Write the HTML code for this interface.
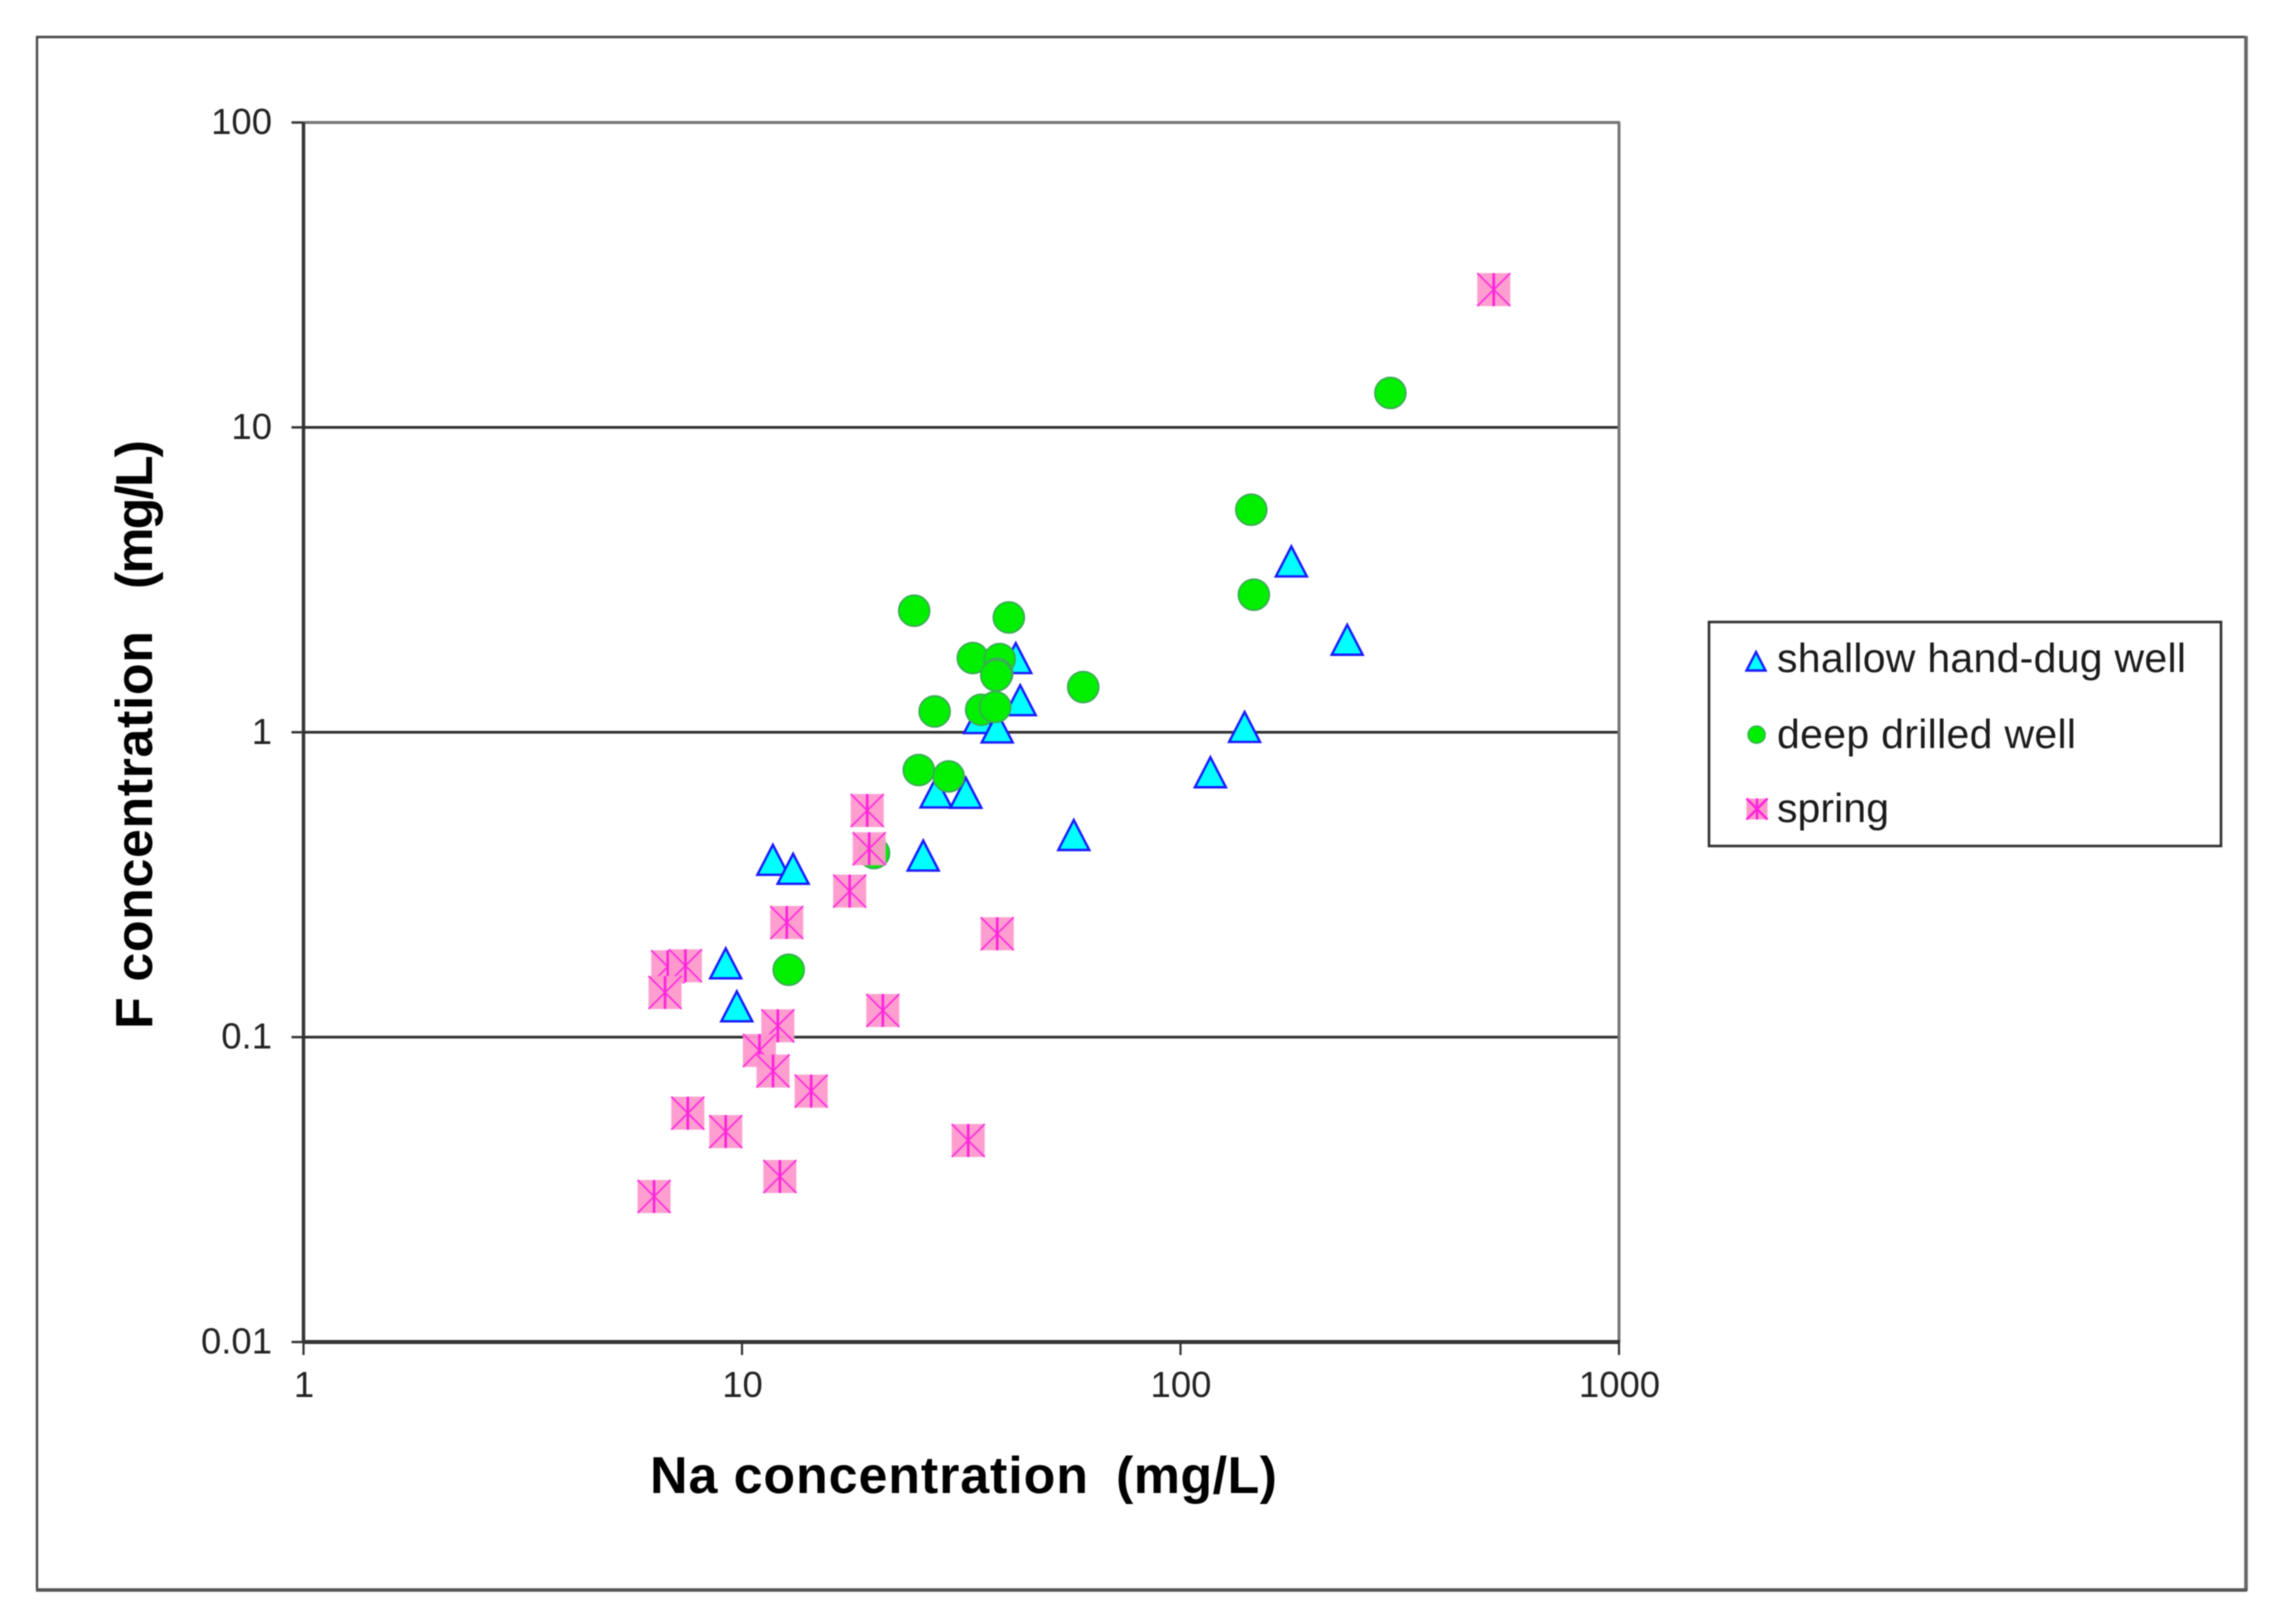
<!DOCTYPE html>
<html>
<head>
<meta charset="utf-8">
<title>F vs Na concentration</title>
<style>
html,body{margin:0;padding:0;background:#fff;}
svg{display:block;font-family:"Liberation Sans",sans-serif;filter:blur(0.6px);}
</style>
</head>
<body>
<svg id="chart" width="2276" height="1616" viewBox="0 0 2276 1616" xmlns="http://www.w3.org/2000/svg">
  <rect x="0" y="0" width="2276" height="1616" fill="#ffffff"/>
  <g>
    <line x1="36.5" y1="37" x2="2246" y2="37" stroke="#4a4a4a" stroke-width="2.4"/>
    <line x1="37" y1="36" x2="37" y2="1590" stroke="#4a4a4a" stroke-width="2.4"/>
    <line x1="2246" y1="36" x2="2246" y2="1591" stroke="#666666" stroke-width="3.6"/>
    <line x1="36" y1="1590" x2="2247" y2="1590" stroke="#555555" stroke-width="3.6"/>
  </g>
  <g id="grid"></g>
  <g id="axes"></g>
  <g id="marks"></g>
  <g>
    <text x="650" y="1493" font-size="52" font-weight="700" fill="#000000" textLength="438">Na concentration</text>
    <text x="1116" y="1493" font-size="52" font-weight="700" fill="#000000" textLength="161">(mg/L)</text>
  </g>
  <g>
    <text transform="translate(152,1029) rotate(-90)" x="0" y="0" font-size="52" font-weight="700" fill="#000000" textLength="398">F concentration</text>
    <text transform="translate(152,589) rotate(-90)" x="0" y="0" font-size="52" font-weight="700" fill="#000000" textLength="149">(mg/L)</text>
  </g>
  <g>
    <rect x="1709" y="622" width="512" height="224" fill="#ffffff" stroke="#333333" stroke-width="2.6"/>
    <g>
      <polygon points="1756,652 1765.5,670.5 1746.5,670.5" fill="#00ffff" stroke="#1a1aff" stroke-width="2.4"/>
      <text x="1777" y="672" font-size="41" fill="#1a1a1a" textLength="409">shallow hand-dug well</text>
    </g>
    <g>
      <circle cx="1756.6" cy="734.7" r="8.6" fill="#00ee00" stroke="#3fae5a" stroke-width="1.4"/>
      <text x="1777" y="748" font-size="41" fill="#1a1a1a" textLength="299">deep drilled well</text>
    </g>
    <g>
      <rect x="1746.5" y="798.5" width="21" height="21" fill="#ff99cc"/>
      <path d="M1746.5 798.5L1767.5 819.5M1767.5 798.5L1746.5 819.5M1757 798.5V819.5" stroke="#ff22dd" stroke-width="2.4" fill="none"/>
      <text x="1777" y="822" font-size="41" fill="#1a1a1a" textLength="112">spring</text>
    </g>
  </g>
</svg>
<script>
// Tick values and labels
const xTicks = [1, 10, 100, 1000];
const xTickLabels = ["1", "10", "100", "1000"];
const yTicks = [0.01, 0.1, 1, 10, 100];
const yTickLabels = ["0.01", "0.1", "1", "10", "100"];

// Shallow hand-dug wells (Na mg/L, F mg/L)
const shallowNa = [42.1, 43.1, 34.8, 38.2, 27.7, 32.4, 57.1, 25.9, 11.76, 13.08, 9.18, 9.73, 179, 240, 140, 117];
const shallowF = [1.751, 1.274, 1.113, 1.037, 0.6346, 0.6331, 0.4602, 0.3941, 0.3817, 0.3566, 0.1746, 0.1262, 3.634, 2.011, 1.041, 0.7392];

// Deep drilled wells (Na mg/L, F mg/L)
const deepNa = [24.7, 40.6, 33.6, 38.7, 38.2, 38.0, 60.0, 27.5, 35.1, 37.8, 25.3, 29.6, 20.0, 12.78, 301, 145, 147];
const deepF = [2.504, 2.380, 1.751, 1.739, 1.555, 1.536, 1.407, 1.170, 1.185, 1.210, 0.7516, 0.7161, 0.4015, 0.1663, 12.97, 5.370, 2.826];

// Springs (Na mg/L, F mg/L)
const springNa = [19.3, 19.5, 17.6, 12.65, 38.2, 6.771, 7.429, 6.676, 12.07, 20.95, 10.96, 11.77, 14.38, 7.523, 9.18, 32.8, 12.2, 6.302, 518];
const springF = [0.5538, 0.4147, 0.3013, 0.2377, 0.2183, 0.1701, 0.1714, 0.1401, 0.1089, 0.1223, 0.0904, 0.0774, 0.0665, 0.0563, 0.0490, 0.0458, 0.0349, 0.0300, 28.3];

const NS = "http://www.w3.org/2000/svg";
const plotLeft = 303.5, plotRight = 1619, plotTop = 122.5, plotBottom = 1342;

function xScale(v) { return plotLeft + (Math.log10(v) - 0) * (plotRight - plotLeft) / 3; }
function yScale(v) { return plotBottom - (Math.log10(v) + 2) * (plotBottom - plotTop) / 4; }

function mk(tag, attrs, parent) {
  const el = document.createElementNS(NS, tag);
  for (const k in attrs) el.setAttribute(k, attrs[k]);
  parent.appendChild(el);
  return el;
}

const gridG = document.getElementById("grid");
const axesG = document.getElementById("axes");
const marksG = document.getElementById("marks");

// Gridlines and y ticks
yTicks.forEach(function (v, i) {
  const y = yScale(v);
  if (i > 0 && i < yTicks.length - 1) {
    const g = mk("line", {x1: plotLeft, y1: y, x2: plotRight, y2: y, stroke: "#303030", "stroke-width": 2.8}, gridG);
    
    
  }
  const t = mk("line", {x1: 291.5, y1: y, x2: plotLeft, y2: y, stroke: "#333333", "stroke-width": 2.4}, axesG);
  
  
  const lab = mk("text", {x: 272, y: y + 11.5, "text-anchor": "end", "font-size": 36.5, fill: "#222222"}, axesG);
  lab.textContent = yTickLabels[i];
  
  
});

// Plot border lines
const topLine = mk("line", {x1: plotLeft, y1: plotTop, x2: plotRight + 1, y2: plotTop, stroke: "#777777", "stroke-width": 3}, axesG);


const rightLine = mk("line", {x1: plotRight, y1: plotTop, x2: plotRight, y2: plotBottom, stroke: "#777777", "stroke-width": 3}, axesG);


const yAxisLine = mk("line", {x1: plotLeft, y1: plotTop, x2: plotLeft, y2: plotBottom, stroke: "#333333", "stroke-width": 3.4}, axesG);


const xAxisLine = mk("line", {x1: plotLeft, y1: plotBottom, x2: plotRight + 1, y2: plotBottom, stroke: "#333333", "stroke-width": 4}, axesG);



// X ticks
xTicks.forEach(function (v, i) {
  const x = xScale(v);
  const t = mk("line", {x1: x, y1: plotBottom, x2: x, y2: 1355, stroke: "#333333", "stroke-width": 2.2}, axesG);
  
  
  const lab = mk("text", {x: x + 0.5, y: 1397, "text-anchor": "middle", "font-size": 36.5, fill: "#222222"}, axesG);
  lab.textContent = xTickLabels[i];
  
  
});

// Shallow hand-dug well markers
shallowNa.forEach(function (v, i) {
  const x = xScale(v), y = yScale(shallowF[i]);
  const p = mk("polygon", {
    points: x + "," + (y - 15) + " " + (x + 15.5) + "," + (y + 15) + " " + (x - 15.5) + "," + (y + 15),
    fill: "#00ffff", stroke: "#1a1aff", "stroke-width": 2.4
  }, marksG);
  
  
});

// Deep drilled well markers
deepNa.forEach(function (v, i) {
  const x = xScale(v), y = yScale(deepF[i]);
  const c = mk("circle", {cx: x, cy: y, r: 15.5, fill: "#00f000", stroke: "#3fa85a", "stroke-width": 1.6}, marksG);
  
  
});

// Spring markers
springNa.forEach(function (v, i) {
  const x = xScale(v), y = yScale(springF[i]);
  const h = 16.5;
  const g = mk("g", {}, marksG);
  
  
  mk("rect", {x: x - h, y: y - h, width: 2 * h, height: 2 * h, fill: "#ff99cc", "fill-opacity": 0.95}, g);
  mk("path", {
    d: "M" + (x - h) + " " + (y - h) + "L" + (x + h) + " " + (y + h) +
       "M" + (x + h) + " " + (y - h) + "L" + (x - h) + " " + (y + h),
    stroke: "#ff33dd", "stroke-width": 1.8, fill: "none"
  }, g);
  mk("path", {
    d: "M" + x + " " + (y - h) + "V" + (y + h),
    stroke: "#ff22dd", "stroke-width": 2.6, fill: "none"
  }, g);
});
</script>
</body>
</html>
